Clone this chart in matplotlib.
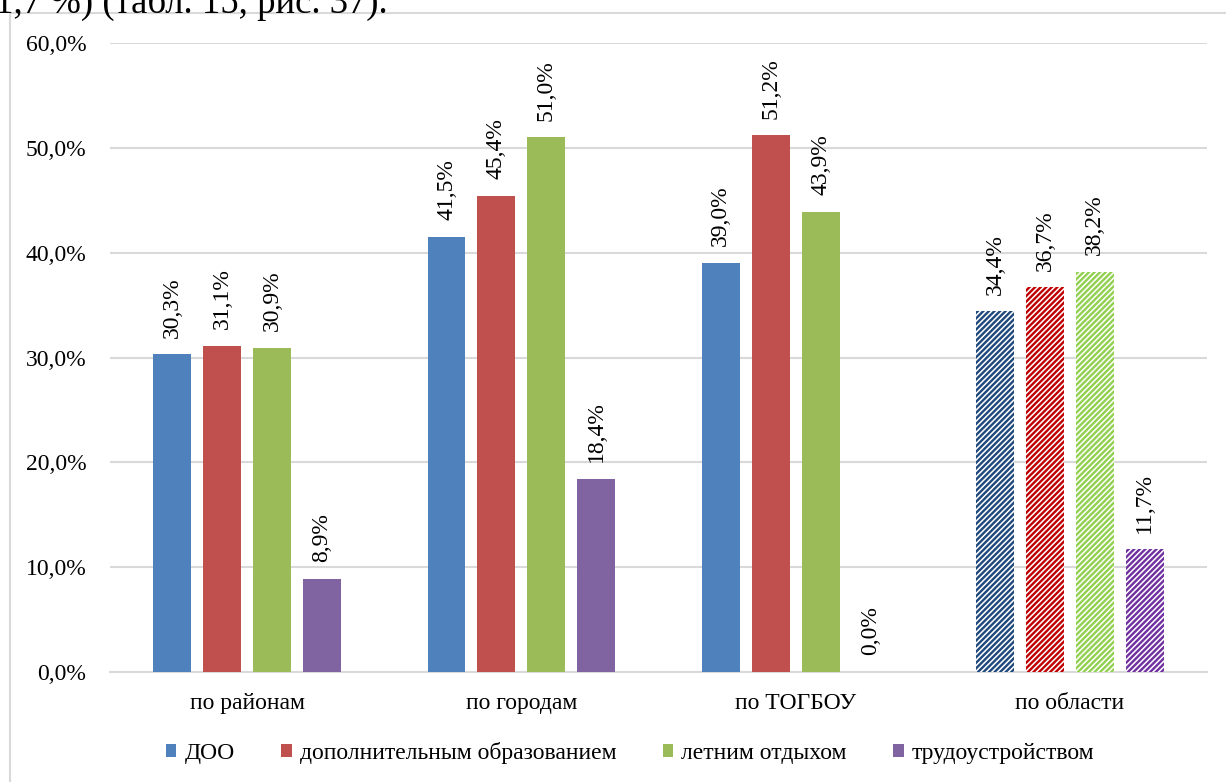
import matplotlib
matplotlib.use("Agg")
import matplotlib.pyplot as plt
from matplotlib.patches import Rectangle, Patch
import numpy as np

plt.rcParams['font.family'] = ['Liberation Serif', 'DejaVu Serif']
plt.rcParams['hatch.linewidth'] = 1.7

categories = ["по районам", "по городам", "по ТОГБОУ", "по области"]
series_names = ["ДОО", "дополнительным образованием", "летним отдыхом", "трудоустройством"]
doo = [30.3, 41.5, 39.0, 34.4]
dop = [31.1, 45.4, 51.2, 36.7]
leto = [30.9, 51.0, 43.9, 38.2]
trud = [8.9, 18.4, 0.0, 11.7]
series = [doo, dop, leto, trud]
colors = ["#4F81BD", "#C0504D", "#9BBB59", "#8064A2"]
hatch_colors = ["#1F497D", "#C00000", "#92D050", "#7030A0"]
yticks = [0, 10, 20, 30, 40, 50, 60]

FS = 17

fig = plt.figure(figsize=(12.26, 7.82), dpi=100)
# outer chart frame
fig.patches.append(Rectangle((10/1226, -0.1), 1.2, 1 - 13/782 + 0.1,
                             transform=fig.transFigure, fill=False,
                             edgecolor="#D9D9D9", linewidth=1.5))
fig.text(-5/1226, 1 - 3/782, "1,7 %) (табл. 15, рис. 37).", fontsize=26.5,
         ha="left", va="center", color="black")

ax = fig.add_axes([110/1226, 1 - 672/782, 1097/1226, (672 - 43)/782])
x = np.arange(len(categories))
width = 0.138
step = 0.182
for i, (vals, c, hc) in enumerate(zip(series, colors, hatch_colors)):
    pos = x + (i - 1.5) * step
    for j, (p, v) in enumerate(zip(pos, vals)):
        if j == len(categories) - 1:
            ax.bar(p, v, width, facecolor="white", edgecolor=hc, hatch="//////",
                   linewidth=0, zorder=3)
        else:
            ax.bar(p, v, width, color=c, linewidth=0, zorder=3)
        ax.annotate(f"{v:.1f}%".replace(".", ","), (p, v), xytext=(0, 12),
                    textcoords="offset points", rotation=90, ha="center",
                    va="bottom", fontsize=FS)

ax.set_ylim(0, 60)
ax.set_xlim(-0.5, 3.5)
ax.set_yticks(yticks)
ax.set_yticklabels([f"{t:.1f}%".replace(".", ",") for t in yticks], fontsize=FS)
ax.set_xticks(x)
ax.set_xticklabels(categories, fontsize=FS)
ax.tick_params(axis="x", length=0, pad=15)
ax.tick_params(axis="y", length=0, pad=17)
ax.grid(axis="y", color="#D9D9D9", linewidth=1.5, zorder=0)
for s in ["top", "right", "left"]:
    ax.spines[s].set_visible(False)
ax.spines["bottom"].set_color("#D9D9D9")
ax.spines["bottom"].set_linewidth(1.5)

handles = [Patch(facecolor=c) for c in colors]
fig.legend(handles, series_names, loc="center", bbox_to_anchor=(0.514, 1 - 753/782),
           ncol=4, frameon=False, fontsize=FS, handlelength=0.45, handleheight=0.45,
           handletextpad=0.35, columnspacing=1.95)

fig.savefig("out.png", dpi=100)
